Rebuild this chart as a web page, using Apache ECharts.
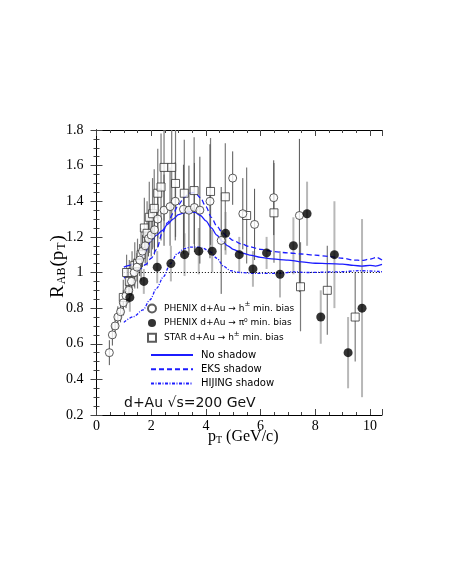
<!DOCTYPE html>
<html>
<head>
<meta charset="utf-8">
<script src="https://cdn.jsdelivr.net/npm/echarts@6/dist/echarts.min.js"></script>
<style>
html, body { margin: 0; padding: 0; background: #fff; }
#main { width: 450px; height: 582px; }
</style>
</head>
<body>
<div id="main"></div>
<script>
// PHENIX d+Au -> h+- (open circles)
const hpmX = [0.47, 0.58, 0.68, 0.78, 0.88, 0.98, 1.08, 1.18, 1.28, 1.38, 1.48, 1.58, 1.68, 1.78, 1.9, 2.0, 2.12, 2.24, 2.47, 2.69, 2.88, 3.18, 3.38, 3.58, 3.78, 4.15, 4.56, 4.98, 5.35, 5.78, 6.48, 7.42];
const hpmY = [0.55, 0.65, 0.70, 0.75, 0.78, 0.83, 0.87, 0.90, 0.95, 1.00, 1.03, 1.07, 1.12, 1.15, 1.19, 1.21, 1.24, 1.30, 1.35, 1.37, 1.40, 1.355, 1.35, 1.365, 1.35, 1.40, 1.18, 1.53, 1.33, 1.27, 1.42, 1.32];
const hpmErr = [0.07, 0.06, 0.06, 0.06, 0.06, 0.07, 0.07, 0.07, 0.08, 0.08, 0.08, 0.09, 0.09, 0.1, 0.1, 0.12, 0.14, 0.16, 0.2, 0.22, 0.22, 0.25, 0.25, 0.25, 0.3, 0.32, 0.3, 0.15, 0.2, 0.2, 0.21, 0.43];

// PHENIX d+Au -> pi0 (filled circles)
const piX = [1.22, 1.73, 2.22, 2.72, 3.22, 3.74, 4.23, 4.72, 5.22, 5.72, 6.22, 6.71, 7.2, 7.7, 8.2, 8.7, 9.2, 9.71];
const piY = [0.86, 0.95, 1.03, 1.05, 1.10, 1.12, 1.12, 1.22, 1.10, 1.02, 1.11, 0.99, 1.15, 1.33, 0.75, 1.10, 0.55, 0.80];
const piErr = [0.08, 0.07, 0.09, 0.1, 0.12, 0.13, 0.12, 0.12, 0.1, 0.1, 0.09, 0.13, 0.16, 0.18, 0.15, 0.30, 0.20, 0.5];

// STAR d+Au -> h+- (open squares)
const starX = [0.98, 1.1, 1.2, 1.3, 1.4, 1.5, 1.63, 1.75, 1.85, 1.93, 2.05, 2.11, 2.24, 2.36, 2.47, 2.75, 2.89, 3.21, 3.57, 4.17, 4.71, 5.49, 6.49, 7.46, 8.44, 9.46];
const starY = [0.86, 1.0, 0.95, 1.0, 1.04, 1.05, 1.10, 1.25, 1.22, 1.31, 1.33, 1.36, 1.445, 1.48, 1.59, 1.59, 1.50, 1.445, 1.46, 1.455, 1.425, 1.32, 1.335, 0.92, 0.90, 0.75];
const starErr = [0.1, 0.1, 0.12, 0.12, 0.13, 0.14, 0.15, 0.17, 0.18, 0.2, 0.2, 0.22, 0.25, 0.3, 0.3, 0.3, 0.3, 0.3, 0.3, 0.3, 0.3, 0.27, 0.28, 0.25, 0.25, 0.25];

// model curves
const noShadowX = [1.0, 1.2, 1.4, 1.6, 1.8, 2.0, 2.2, 2.4, 2.6, 2.8, 3.0, 3.2, 3.4, 3.6, 3.8, 4.0, 4.2, 4.4, 4.6, 4.8, 5.0, 5.3, 5.6, 6.0, 6.4, 6.7, 7.0, 7.5, 8.0, 8.5, 9.0, 9.4, 9.7, 10.0, 10.2, 10.44];
const noShadowY = [1.03, 1.04, 1.05, 1.08, 1.12, 1.18, 1.21, 1.235, 1.27, 1.30, 1.325, 1.335, 1.34, 1.338, 1.32, 1.29, 1.25, 1.21, 1.175, 1.15, 1.13, 1.11, 1.098, 1.085, 1.077, 1.072, 1.07, 1.06, 1.052, 1.05, 1.047, 1.04, 1.036, 1.04, 1.036, 1.045];
const eksX = [1.0, 1.2, 1.4, 1.6, 1.8, 2.0, 2.2, 2.4, 2.6, 2.8, 3.0, 3.2, 3.4, 3.6, 3.8, 4.0, 4.2, 4.4, 4.6, 4.8, 5.0, 5.3, 5.6, 6.0, 6.5, 7.0, 7.5, 8.0, 8.5, 9.0, 9.4, 9.7, 10.0, 10.25, 10.44];
const eksY = [0.97, 0.98, 0.995, 1.02, 1.045, 1.08, 1.13, 1.22, 1.28, 1.33, 1.38, 1.42, 1.445, 1.45, 1.42, 1.37, 1.31, 1.26, 1.225, 1.2, 1.18, 1.16, 1.145, 1.13, 1.117, 1.11, 1.104, 1.097, 1.09, 1.08, 1.07, 1.068, 1.075, 1.085, 1.07];
const hijingX = [1.0, 1.35, 1.7, 1.95, 2.2, 2.45, 2.7, 2.95, 3.2, 3.45, 3.7, 3.9, 4.15, 4.4, 4.65, 4.9, 5.25, 5.75, 6.7, 7.2, 7.7, 8.9, 9.6, 10.44];
const hijingY = [0.72, 0.752, 0.79, 0.846, 0.911, 0.977, 1.05, 1.105, 1.133, 1.143, 1.143, 1.136, 1.117, 1.08, 1.035, 1.01, 1.0, 0.995, 0.995, 1.004, 1.0, 1.004, 1.01, 1.005];
const unityX = [1.0, 10.44];
const unityY = [1, 1];

const xTicks = { min: 0, max: 10.44, step: 2 };
const yTicks = { min: 0.2, max: 1.8, step: 0.2 };

const hpmName = 'PHENIX d+Au → h± min. bias';
const piName = 'PHENIX d+Au → π⁰ min. bias';
const starName = 'STAR d+Au → h± min. bias';

const zip = (xs, ys) => xs.map((x, i) => [x, ys[i]]);

function errorBars(name, xs, ys, errs, color, width) {
    return {
        name: name,
        type: 'custom',
        clip: true,
        silent: true,
        z: 1,
        data: xs.map((x, i) => [x, ys[i] - errs[i], ys[i] + errs[i]]),
        encode: { x: 0, y: [1, 2] },
        renderItem: function (params, api) {
            const lo = api.coord([api.value(0), api.value(1)]);
            const hi = api.coord([api.value(0), api.value(2)]);
            return {
                type: 'line',
                shape: { x1: lo[0], y1: lo[1], x2: hi[0], y2: hi[1] },
                style: { stroke: color, lineWidth: width }
            };
        }
    };
}

const curve = (name, xs, ys, type) => ({
    name: name,
    type: 'line',
    data: zip(xs, ys),
    symbol: 'none',
    smooth: 0.3,
    smoothMonotone: 'x',
    z: 2,
    lineStyle: { color: '#1c1cff', width: 1.3, type: type },
    itemStyle: { color: '#1c1cff' }
});

const serif = 'Liberation Serif';
const sans = 'DejaVu Sans';

const axisCommon = {
    axisLine: { show: true, lineStyle: { color: '#000', width: 1 } },
    axisTick: { show: true, inside: true, length: 6, lineStyle: { color: '#444' } },
    minorTick: { show: true, splitNumber: 4, length: 3, lineStyle: { color: '#444' } },
    splitLine: { show: false }
};

const legendRich = {
    a: { fontFamily: sans, fontSize: 9, lineHeight: 14, color: '#000' },
    s: { fontFamily: sans, fontSize: 7, lineHeight: 6, padding: [0, 0, 8, 0], color: '#000' }
};

const chart = echarts.init(document.getElementById('main'));

chart.setOption({
    animation: false,
    backgroundColor: '#fff',
    grid: { left: 96.5, right: 68, top: 130, bottom: 167 },
    xAxis: [
        Object.assign({}, axisCommon, {
            type: 'value', min: xTicks.min, max: xTicks.max, interval: xTicks.step,
            name: '{n|p}{s|T}{n| (GeV/c)}',
            nameLocation: 'middle', nameGap: 14, nameMoveOverlap: false,
            nameTextStyle: {
                padding: [0, 0, 0, 8],
                rich: {
                    n: { fontFamily: serif, fontSize: 16, lineHeight: 16, color: '#000' },
                    s: { fontFamily: serif, fontSize: 10, lineHeight: 10, padding: [7, 0, 0, 0], color: '#000' }
                }
            },
            axisLabel: { showMaxLabel: false, fontFamily: serif, fontSize: 14, color: '#000', margin: 4 }
        }),
        Object.assign({}, axisCommon, {
            type: 'value', position: 'top', min: xTicks.min, max: xTicks.max, interval: xTicks.step,
            axisLabel: { show: false }
        })
    ],
    yAxis: [
        Object.assign({}, axisCommon, {
            type: 'value', min: yTicks.min, max: yTicks.max, interval: yTicks.step,
            name: '{n|R}{s|AB}{n|(p}{s|T}{n|)}',
            nameLocation: 'middle', nameGap: 29, nameMoveOverlap: false,
            nameTextStyle: {
                padding: [0, 0, 0, 12],
                rich: {
                    n: { fontFamily: serif, fontSize: 19, lineHeight: 19, color: '#000' },
                    s: { fontFamily: serif, fontSize: 12, lineHeight: 12, padding: [8, 1, 0, 1], color: '#000' }
                }
            },
            axisLabel: { fontFamily: serif, fontSize: 14, color: '#000', margin: 13 }
        }),
        Object.assign({}, axisCommon, {
            type: 'value', position: 'right', min: yTicks.min, max: yTicks.max, interval: yTicks.step,
            axisLabel: { show: false }
        })
    ],
    legend: [
        {
            data: [hpmName, piName, starName],
            orient: 'vertical', left: 147, top: 301, padding: 0,
            itemWidth: 8, itemHeight: 8, itemGap: 2.6,
            selectedMode: false,
            formatter: function (name) {
                return name.split('±').map(p => '{a|' + p + '}').join('{s|±}');
            },
            textStyle: { fontFamily: sans, fontSize: 9, color: '#000', padding: [0, 0, 0, 3], rich: legendRich }
        },
        {
            data: ['No shadow', 'EKS shadow', 'HIJING shadow'],
            orient: 'vertical', left: 150, top: 349, padding: 0,
            itemWidth: 42, itemHeight: 10, itemGap: 2.2,
            selectedMode: false,
            itemStyle: { opacity: 0 },
            textStyle: { fontFamily: sans, fontSize: 10, lineHeight: 12, color: '#000', padding: [0, 0, 0, 3] }
        }
    ],
    graphic: [{
        type: 'text', left: 124, top: 396,
        style: { text: 'd+Au √s=200 GeV', font: '14px "DejaVu Sans"', fill: '#111' }
    }],
    series: [
        errorBars('piErr', piX, piY, piErr, '#b8b8b8', 2),
        errorBars('starErr', starX, starY, starErr, '#7a7a7a', 1.2),
        errorBars('hpmErr', hpmX, hpmY, hpmErr, '#555', 1),
        {
            name: 'unity', type: 'line', data: zip(unityX, unityY), symbol: 'none', z: 1,
            lineStyle: { color: '#000', width: 1, type: [1, 2] }
        },
        curve('No shadow', noShadowX, noShadowY, 'solid'),
        curve('EKS shadow', eksX, eksY, [5, 3]),
        curve('HIJING shadow', hijingX, hijingY, [3, 1.5, 1, 1.5]),
        {
            name: starName, type: 'scatter', data: zip(starX, starY), symbol: 'rect', symbolSize: 8, z: 3,
            itemStyle: { color: '#fff', borderColor: '#333', borderWidth: 1 }
        },
        {
            name: hpmName, type: 'scatter', data: zip(hpmX, hpmY), symbol: 'circle', symbolSize: 8, z: 4,
            itemStyle: { color: '#fff', borderColor: '#333', borderWidth: 1 }
        },
        {
            name: piName, type: 'scatter', data: zip(piX, piY), symbol: 'circle', symbolSize: 9, z: 5,
            itemStyle: { color: '#000' }
        }
    ]
});
</script>
</body>
</html>
